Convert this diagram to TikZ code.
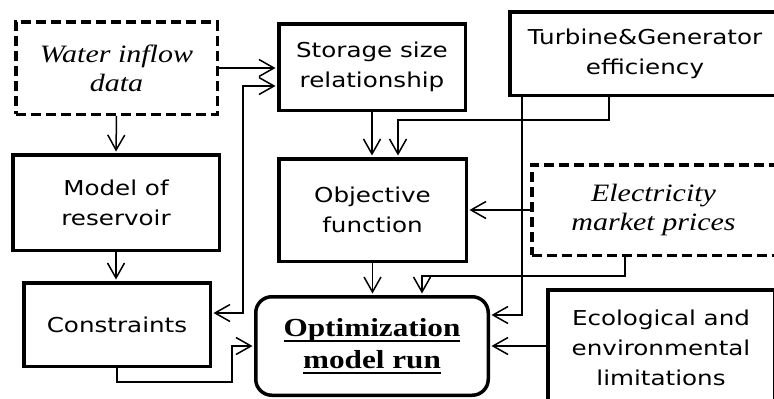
\documentclass[tikz,border=0pt]{standalone}
\usepackage{fontspec}
\usetikzlibrary{arrows.meta}
\newfontfamily\sansf[FakeStretch=1.2]{DejaVu Sans}
\newfontfamily\serf[FakeStretch=1.2]{Liberation Serif}
\newcommand\myul[1]{\setbox0\hbox{#1}\rlap{\rule[-5pt]{\wd0}{2pt}}\box0}
\begin{document}
\begin{tikzpicture}[x=1pt,y=-1pt,
  solidbox/.style={draw, line width=3.5pt, inner sep=0pt, align=center,
    font=\sansf\fontsize{20.5}{30}\selectfont},
  dashbox/.style={draw, line width=3.5pt, dash pattern=on 10pt off 5pt, inner sep=0pt, align=center,
    font=\serf\itshape\fontsize{25}{29}\selectfont},
  optbox/.style={draw, line width=3.5pt, rounded corners=16pt, inner sep=0pt, align=center,
    font=\serf\bfseries\fontsize{26}{32}\selectfont},
  tip/.tip={Straight Barb[length=15pt,width=17pt]},
  arr/.style={line width=1.5pt, -tip, shorten >=1.5pt},
  arrb/.style={line width=1.5pt, tip-tip, shorten >=1.5pt, shorten <=1.5pt}
]
\useasboundingbox (0,0) rectangle (774,399);
\fill[white] (0,0) rectangle (774,399);

\node[dashbox, minimum width=201.5pt, minimum height=92.5pt] (water) at (116.5,68) {Water inflow\\data};
\node[solidbox, minimum width=186.5pt, minimum height=86.5pt] (storage) at (372,67) {Storage size\\relationship};
\node[solidbox, minimum width=270.5pt, minimum height=83.5pt] (turbine) at (645,53.5) {Turbine\&Generator\\efficiency};
\node[solidbox, minimum width=206.5pt, minimum height=95.5pt] (model) at (116,202.5) {Model of\\reservoir};
\node[solidbox, minimum width=186.5pt, minimum height=83.5pt] (constraints) at (117,324.5) {Constraints};
\node[solidbox, minimum width=187.5pt, minimum height=102.5pt] (objective) at (372.5,210) {Objective\\function};
\node[dashbox, minimum width=243.5pt, minimum height=90.5pt] (elec) at (653.5,210) {Electricity\\market prices};
\node[optbox, minimum width=232.5pt, minimum height=98.5pt] (opt) at (372,346) {\myul{Optimization}\\\myul{model run}};
\node[solidbox, minimum width=226.5pt, minimum height=116.5pt] (eco) at (661,348) {Ecological and\\environmental\\limitations};

\coordinate (cx) at (243,86);
\coordinate (k1) at (232,382);
\coordinate (t1) at (609,120);
\coordinate (t2) at (398,120);
\coordinate (t3) at (522,315);
\coordinate (e1) at (625,276);
\coordinate (e2) at (422,276);

\draw[arr] (water.east) -- (water.east -| storage.west);
\draw[arrb] ([yshift=11.5pt]constraints.east) -| (cx) -- (cx -| storage.west);
\draw[arr] (water.south) -- (model.north);
\draw[arr] (model.south) -- (model.south |- constraints.north);
\draw[arr] (constraints.south) |- (k1) |- (opt.west);
\draw[arr] (storage.south) -- (storage.south |- objective.north);
\draw[arr] (turbine.south -| t1) |- (t2) -- (t2 |- objective.north);
\draw[arr] (turbine.south -| t3) |- (t3 -| opt.east);
\draw[arr] (elec.west) -- (elec.west -| objective.east);
\draw[arr] (elec.south -| e1) |- (e2) -- (e2 |- opt.north);
\draw[arr] (objective.south) -- (objective.south |- opt.north);
\draw[arr] (opt.east -| eco.west) -- (opt.east);
\end{tikzpicture}
\end{document}
